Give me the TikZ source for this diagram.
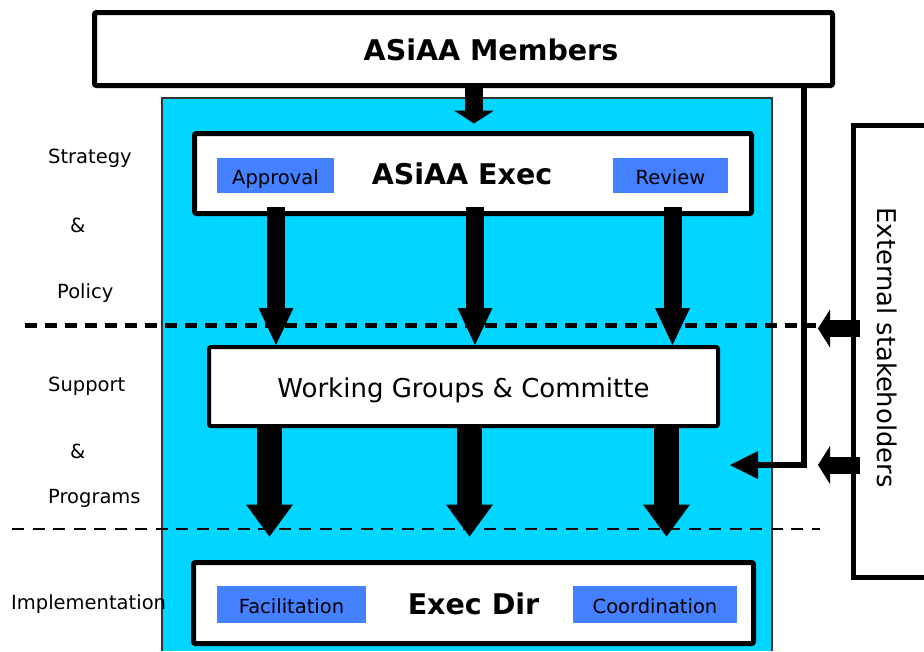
\documentclass[tikz,border=0pt]{standalone}
\usepackage{fontspec}
\setmainfont{DejaVu Sans}
\usetikzlibrary{arrows.meta}
\definecolor{cyanbg}{RGB}{0,214,255}
\definecolor{tagblue}{RGB}{68,128,255}
\newcommand\lblfont{\fontsize{19.5}{23}\selectfont}
\newcommand\ttlfont{\fontsize{28.5}{34}\selectfont\bfseries}
\newcommand\wgfont{\fontsize{26}{31}\selectfont}
\newcommand\extfont{\fontsize{25.8}{31}\selectfont}
\begin{document}
\begin{tikzpicture}[x=1pt,y=-1pt,
  box/.style={draw, line width=5pt, fill=white, rounded corners=2pt, inner sep=0pt},
  tag/.style={fill=tagblue, inner sep=0pt, font=\lblfont, text height=18pt, text depth=0pt},
  ttl/.style={font=\ttlfont, anchor=base, inner sep=0pt},
  side/.style={font=\lblfont, anchor=base west, inner sep=0pt},
  uparrow/.style={line width=18pt, -{Triangle[width=35pt,length=37pt,line width=0pt]}},
  lowarrow/.style={line width=25pt, -{Triangle[width=47pt,length=32pt,line width=0pt]}},
  memarrow/.style={line width=18pt, -{Triangle[width=40pt,length=13pt,line width=0pt]}},
  extarrow/.style={line width=17pt, -{Triangle[width=38pt,length=12pt,line width=0pt]}},
  conn/.style={line width=6pt, line join=miter, -{Triangle[width=28pt,length=28pt,line width=0pt]}}
]
\useasboundingbox (0,0) rectangle (924,651);
% cyan area
\fill[cyanbg] (162,98) rectangle (772,651);
\draw[line width=1.5pt, draw=black!80] (162,651) |- (772,98) -- (772,651);
% dividers
\draw[line width=5pt, dash pattern=on 12pt off 8pt] (25,325) -- (816,325);
\draw[line width=2.5pt, dash pattern=on 12pt off 8.5pt] (12,529) -- (820,529);
% boxes
\node[box, minimum width=738pt, minimum height=73pt] (members) at (463.5,49) {};
\node[ttl] (memt) at (491,60) {ASiAA Members};
\node[box, minimum width=557pt, minimum height=80pt] (exec) at (473,173.5) {};
\node[ttl] (exect) at (462,184.5) {ASiAA Exec};
\node[tag, minimum width=117pt, minimum height=35pt] (appr) at (275.5,175.5) {Approval};
\node[tag, minimum width=115pt, minimum height=35pt] (rev) at (670.5,175.5) {Review};
\node[box, line width=4pt, minimum width=509pt, minimum height=79pt, font=\wgfont, text height=21pt, text depth=0pt] (wg) at (463.5,386.5) {Working Groups \& Committe};
\node[box, minimum width=560pt, minimum height=81pt] (dir) at (473.5,603) {};
\node[ttl] (dirt) at (473.5,614) {Exec Dir};
\node[tag, minimum width=149pt, minimum height=37pt, text height=17pt] (fac) at (291.5,604.5) {Facilitation};
\node[tag, minimum width=164pt, minimum height=37pt, text height=17pt] (coo) at (655,604.5) {Coordination};
\node[draw, line width=5pt, fill=white, minimum width=93pt, minimum height=452pt, inner sep=0pt] (ext) at (900,351.5) {};
\node[font=\extfont, rotate=-90, inner sep=0pt] (extt) at (887,347.5) {External stakeholders};
% side labels
\node[side] (s1) at (48,163) {Strategy};
\node[side] (s2) at (70,232) {\&};
\node[side] (s3) at (57,298) {Policy};
\node[side] (s4) at (48,391) {Support};
\node[side] (s5) at (70,458) {\&};
\node[side] (s6) at (48,503) {Programs};
\node[side] (s7) at (11,609) {Implementation};
% arrows
\draw[memarrow] ([xshift=10.5pt,yshift=1.5pt]members.south) -- ([xshift=1pt,yshift=7.5pt]exec.north);
\draw[uparrow] ([xshift=-197pt,yshift=9.5pt]exec.south) -- ([xshift=-187.5pt]wg.north);
\draw[uparrow] ([xshift=2pt,yshift=9.5pt]exec.south) -- ([xshift=11.5pt]wg.north);
\draw[uparrow] ([xshift=199.5pt,yshift=9.5pt]exec.south) -- ([xshift=209pt]wg.north);
\draw[lowarrow] ([xshift=-194pt]wg.south) -- ([xshift=-204pt,yshift=23.5pt]dir.north);
\draw[lowarrow] ([xshift=6pt]wg.south) -- ([xshift=-4pt,yshift=23.5pt]dir.north);
\draw[lowarrow] ([xshift=203pt]wg.south) -- ([xshift=193pt,yshift=23.5pt]dir.north);
\coordinate (t1) at (818,328.5);
\coordinate (t2) at (818,465);
\coordinate (t3) at (730,465);
\draw[extarrow] ([xshift=8.5pt,yshift=23pt]ext.west) -- (t1);
\draw[extarrow] ([xshift=8.5pt,yshift=-113.5pt]ext.west) -- (t2);
\draw[conn] ([xshift=340pt]members.south) |- (t3);
\end{tikzpicture}
\end{document}
